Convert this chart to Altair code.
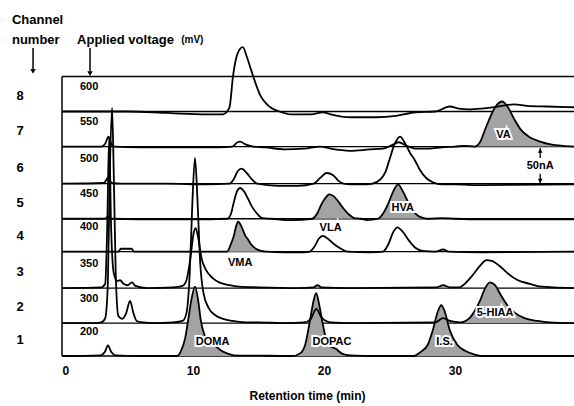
import altair as alt
import pandas as pd

FONT = "Liberation Sans"
TIME_MAX = 39.08          # right edge of the record (min)
Y_MAX = 498               # nA at top of drawing area

channels = [1, 2, 3, 4, 5, 6, 7, 8]
voltages = [200, 300, 350, 400, 450, 500, 550, 600]
offsets = [0, 46, 95, 146, 192, 241, 293, 342]   # baseline of each channel (nA)
top_line = 391

# (retention time min, current above baseline nA)
ch1 = [(0, 0), (2.9, 1), (3.28, 6), (3.5, 15), (3.75, 6), (4.1, 1), (6, 0), (8, 0),
       (8.78, 0), (9.1, 8), (9.4, 25), (9.62, 49), (9.9, 81), (10.15, 97), (10.4, 77),
       (10.6, 49), (10.9, 28), (11.3, 18), (11.7, 14), (12.2, 7), (12.7, 3), (13.1, 1),
       (15, 0.5), (17.6, 0), (18.2, 4), (18.55, 15), (18.93, 50), (19.2, 77), (19.4, 88),
       (19.65, 70), (19.85, 50), (20.1, 28), (20.4, 15), (20.9, 10), (21.4, 3), (22, 1),
       (24, 0), (26.8, 0), (27.4, 6), (27.9, 15), (28.3, 36), (28.7, 63), (28.95, 71),
       (29.2, 63), (29.6, 36), (30.2, 15), (30.8, 7), (31.5, 2), (32, 0), (39.08, 0)]
ch2 = [(0, 0), (2.5, 0), (3.0, 1), (3.3, 7), (3.5, 56), (3.65, 210), (3.82, 301), (3.95, 210),
       (4.1, 70), (4.3, 10), (4.6, 6), (4.9, 14), (5.19, 31), (5.45, 14), (5.7, 3), (6.2, 1),
       (7, 0), (8.5, 1), (9.2, 3), (9.5, 14), (9.75, 70), (9.95, 168), (10.15, 231),
       (10.35, 168), (10.55, 84), (10.8, 42), (11.2, 21), (11.7, 11), (12.3, 6), (13, 3),
       (14, 1), (15, 1), (17, 0), (18.5, 1), (19, 6), (19.4, 20), (19.8, 8), (20.5, 1),
       (22, 0), (28.5, 1), (29.08, 7), (29.6, 3), (30.4, 1), (31.1, 7), (31.5, 17),
       (31.9, 31), (32.3, 49), (32.67, 57), (33.05, 53), (33.5, 39), (34, 25), (34.6, 14),
       (35.3, 7), (36.3, 3), (37.2, 1), (39.08, 0)]
ch3 = [(0, 0), (3.0, 1), (3.3, 6), (3.45, 84), (3.6, 211), (3.75, 84), (3.95, 21), (4.2, 10),
       (4.43, 11), (4.7, 6), (5.0, 4), (5.34, 8), (5.6, 3), (6.5, 0), (8.5, 1), (9.2, 3),
       (9.5, 11), (9.8, 42), (10.05, 77), (10.2, 84), (10.4, 70), (10.65, 42), (11, 25),
       (11.5, 14), (12, 8), (12.8, 4), (13.5, 2), (15, 1), (18, 0), (19.2, 1), (19.5, 4),
       (19.8, 1), (22, 0), (28.6, 1), (29.1, 4), (29.6, 1), (30.3, 1), (30.8, 7), (31.3, 17),
       (31.9, 31), (32.4, 39), (32.8, 38), (33.4, 31), (34, 21), (34.8, 11), (35.7, 6),
       (36.6, 2), (37.5, 1), (39.08, 0)]
ch4 = [(0, 0), (4.3, 0), (4.5, 4), (5.3, 4), (5.5, 0), (8, 0), (12.6, 0), (12.9, 11),
       (13.1, 21), (13.3, 36), (13.44, 42), (13.7, 35), (14.0, 22), (14.2, 17), (14.4, 11),
       (14.8, 4), (15.2, 1), (15.6, 0), (17, -1), (18.5, -1), (18.9, 0), (19.3, 8),
       (19.6, 18), (19.9, 22), (20.3, 18), (20.8, 10), (21.3, 4), (21.8, 0), (23.5, -1),
       (24.5, 0), (24.9, 10), (25.3, 28), (25.6, 34), (26, 28), (26.5, 15), (27, 5),
       (27.5, 1), (28.5, 0), (29.1, 3), (29.5, 0), (32, -1), (39.08, 0)]
ch5 = [(0, 0), (3.3, 0), (3.5, 3), (3.7, 0), (8, -1), (10, -1), (12.6, 0), (12.9, 7),
       (13.1, 22), (13.35, 38), (13.6, 43), (13.9, 38), (14.2, 28), (14.5, 17), (14.9, 7),
       (15.3, 1), (16, 0), (17.5, -2), (19.1, 0), (19.5, 8), (19.8, 20), (20.1, 29),
       (20.4, 34), (20.7, 32), (21.1, 24), (21.5, 14), (21.9, 6), (22.3, 1), (22.8, 0),
       (23.3, -2), (24.1, 0), (24.5, 7), (24.9, 21), (25.3, 39), (25.65, 48), (26, 39),
       (26.4, 24), (26.8, 11), (27.2, 4), (27.6, 1), (28, 0), (29, 1), (30, 0), (32, -1),
       (39.08, -1)]
ch6 = [(0, 0), (3.2, 1), (3.5, 8), (3.8, 1), (4.5, 0), (8, 0), (11, -1), (12.8, 0), (13.1, 6),
       (13.4, 17), (13.7, 21), (14.1, 15), (14.5, 6), (14.9, 0), (16.5, -3), (18, -3),
       (19.2, 0), (19.7, 8), (20.2, 15), (20.7, 12), (21.1, 4), (21.5, 0), (22, -1),
       (23.3, -1), (23.7, 0), (24.3, 6), (24.7, 17), (25.0, 34), (25.4, 56), (25.8, 66),
       (26.2, 56), (26.6, 42), (26.9, 34), (27.3, 20), (27.8, 8), (28.3, 2), (29, -1),
       (30, -1), (32, -2), (39.08, -1)]
ch7 = [(0, 0), (3.0, 0), (3.3, 4), (3.55, 14), (3.75, 4), (4.0, 0), (6, -1), (8, -1),
       (12, -1), (13, 0), (13.4, 6), (13.6, 7), (14, 3), (14.6, 0), (15.5, -1), (17, -4),
       (18.5, -3), (19.7, 0), (20.5, -3), (22, -6), (23.5, -4), (24.5, -3), (25.3, 3),
       (25.7, 6), (26.3, 1), (27, -3), (28, -3), (29, -1), (30, 0), (30.7, 1), (31.5, 0),
       (31.9, 6), (32.3, 24), (32.7, 42), (33.1, 56), (33.6, 63), (34.0, 56), (34.5, 39),
       (35.0, 24), (35.7, 13), (36.5, 7), (37.3, 3), (38.2, 1), (39.08, 0)]
ch8 = [(0, 0), (3.4, 0), (5, 0), (7, -1), (9, -3), (11, -4), (12.3, -4), (12.6, 0), (12.8, 7),
       (13.05, 49), (13.4, 81), (13.8, 90), (14.1, 77), (14.35, 63), (14.6, 49), (15.1, 24),
       (15.9, 6), (16.6, 0), (17.5, -4), (19, -4), (19.9, -1), (20.5, -4), (22, -8), (24, -8),
       (25.5, -6), (27, -1), (28.5, 0), (29.6, 7), (30.3, 4), (31, 3), (32, 4), (33, 6),
       (34.5, 10), (35.5, 8), (37, 7), (39.08, 6)]
traces = [ch1, ch2, ch3, ch4, ch5, ch6, ch7, ch8]

# shaded peaks: name, channel, start, end, label time, label offset from baseline (nA)
peaks = [("DOMA", 1, 8.78, 13.1, 11.5, 20), ("DOPAC", 1, 17.6, 22, 20.6, 20),
         ("I.S.", 1, 26.8, 32, 29.2, 20), ("5-HIAA", 2, 30.4, 37.2, 33.05, 14),
         ("VMA", 4, 12.6, 15.6, 13.6, -16), ("VLA", 5, 19.1, 22.8, 20.5, -13),
         ("HVA", 5, 24.1, 28, 26.0, 15), ("VA", 7, 31.5, 38.2, 33.7, 16)]

scale_bar_nA = 50
scale_bar_t = 36.5
scale_bar_channel = 6

# ---------------------------------------------------------------- tables
rows = []
for ch, pts in zip(channels, traces):
    off = offsets[ch - 1]
    for t, v in pts:
        rows.append(dict(channel=ch, t=t, y=off + v, base=off))
trace_df = pd.DataFrame(rows)

arows, lrows = [], []
for name, ch, t0, t1, lt, ldy in peaks:
    off = offsets[ch - 1]
    for t, v in traces[ch - 1]:
        if t0 <= t <= t1:
            arows.append(dict(peak=name, t=t, y=off + v, base=off))
    lrows.append(dict(label=name, t=lt, y=off + ldy))
area_df = pd.DataFrame(arows)
peak_lab_df = pd.DataFrame(lrows)

base_df = pd.DataFrame({"y": offsets + [top_line]})
left_df = pd.DataFrame({"t": [0], "y": [0], "y2": [top_line]})
chan_df = pd.DataFrame({"t": [-3.2] * 8, "y": [o + 22 for o in offsets],
                        "label": [str(c) for c in channels]})
volt_df = pd.DataFrame({"t": [1.37] * 8, "y": [o + 34 for o in offsets],
                        "label": [str(v) for v in voltages]})
head_df = pd.DataFrame({"t": [-3.82, -3.82, 1.15, 9.1], "y": [470, 442, 442, 442],
                        "label": ["Channel", "number", "Applied voltage", "(mV)"],
                        "size": [13, 13, 13, 10]})
harrow_df = pd.DataFrame({"t": [-2.21, 2.14], "y": [431, 431], "y2": [401, 398]})
hhead_df = pd.DataFrame({"t": [-2.21, 2.14], "y": [398, 395]})

sb_base = offsets[scale_bar_channel - 1]
sb_rule_df = pd.DataFrame({"t": [scale_bar_t, scale_bar_t],
                           "y": [sb_base, sb_base + scale_bar_nA],
                           "y2": [sb_base + 14, sb_base + scale_bar_nA - 14]})
sb_head_df = pd.DataFrame({"t": [scale_bar_t, scale_bar_t],
                           "y": [sb_base + scale_bar_nA - 4, sb_base + 4],
                           "shape": ["triangle-up", "triangle-down"]})
sb_text_df = pd.DataFrame({"t": [scale_bar_t], "y": [sb_base + scale_bar_nA / 2],
                           "label": [f"{scale_bar_nA}nA"]})

# ---------------------------------------------------------------- encodings
xs = alt.Scale(domain=[0, TIME_MAX], nice=False, zero=False)
ys = alt.Scale(domain=[0, Y_MAX], nice=False, zero=False)
x_axis = alt.Axis(values=[0, 10, 20, 30], domain=False, ticks=False, grid=False,
                  labelFont=FONT, labelFontSize=12, labelFontWeight="bold",
                  labelColor="black", labelPadding=9,
                  title="Retention time (min)", titleFont=FONT, titleFontSize=12,
                  titleFontWeight="bold", titleColor="black", titlePadding=14,
                  titleX=245)


def X(f="t"):
    return alt.X(f"{f}:Q", scale=xs, axis=x_axis)


def Y(f="y"):
    return alt.Y(f"{f}:Q", scale=ys, axis=None)


baselines = alt.Chart(base_df).mark_rule(color="black", strokeWidth=1.3).encode(y=Y())
left_rule = alt.Chart(left_df).mark_rule(color="black", strokeWidth=1.5).encode(
    x=X(), y=Y(), y2="y2:Q")

areas = alt.Chart(area_df).mark_area(interpolate="monotone", color="#a3a3a3",
                                     opacity=1).encode(
    x=X(), y=Y(), y2="base:Q", detail="peak:N")

lines = alt.Chart(trace_df).mark_line(interpolate="monotone", color="black",
                                      strokeWidth=1.8).encode(
    x=X(), y=Y(), detail="channel:N")

peak_halo = alt.Chart(peak_lab_df).mark_text(
    font=FONT, fontSize=11, fontWeight="bold", color="white", stroke="white",
    strokeWidth=4).encode(x=X(), y=Y(), text="label:N")
peak_text = alt.Chart(peak_lab_df).mark_text(
    font=FONT, fontSize=11, fontWeight="bold", color="black").encode(
    x=X(), y=Y(), text="label:N")

chan_text = alt.Chart(chan_df).mark_text(
    font=FONT, fontSize=13, fontWeight="bold", color="black").encode(
    x=X(), y=Y(), text="label:N")
volt_text = alt.Chart(volt_df).mark_text(
    font=FONT, fontSize=11, fontWeight="bold", color="black", align="left").encode(
    x=X(), y=Y(), text="label:N")
head_text = alt.Chart(head_df).mark_text(
    font=FONT, fontWeight="bold", color="black", align="left").encode(
    x=X(), y=Y(), text="label:N", size=alt.Size("size:Q", scale=None, legend=None))
head_arrows = alt.Chart(harrow_df).mark_rule(color="black", strokeWidth=1.5).encode(
    x=X(), y=Y(), y2="y2:Q")
head_heads = alt.Chart(hhead_df).mark_point(
    shape="triangle-down", filled=True, color="black", size=30, opacity=1).encode(
    x=X(), y=Y())

sb_rules = alt.Chart(sb_rule_df).mark_rule(color="black", strokeWidth=1.3).encode(
    x=X(), y=Y(), y2="y2:Q")
sb_heads = alt.Chart(sb_head_df).mark_point(
    filled=True, color="black", size=22, opacity=1).encode(
    x=X(), y=Y(), shape=alt.Shape("shape:N", scale=None, legend=None))
sb_text = alt.Chart(sb_text_df).mark_text(
    font=FONT, fontSize=11, fontWeight="bold", color="black").encode(
    x=X(), y=Y(), text="label:N")

chart = alt.layer(
    baselines, left_rule, areas, lines, peak_halo, peak_text, chan_text, volt_text,
    head_text, head_arrows, head_heads, sb_rules, sb_heads, sb_text
).properties(
    width=512, height=356,
    autosize=alt.AutoSizeParams(type="none"),
    padding={"left": 62, "top": 0, "right": 0, "bottom": 50},
    background="white",
).configure_view(stroke=None)

chart.save("out.html", embed_options={"renderer": "svg", "actions": False})
